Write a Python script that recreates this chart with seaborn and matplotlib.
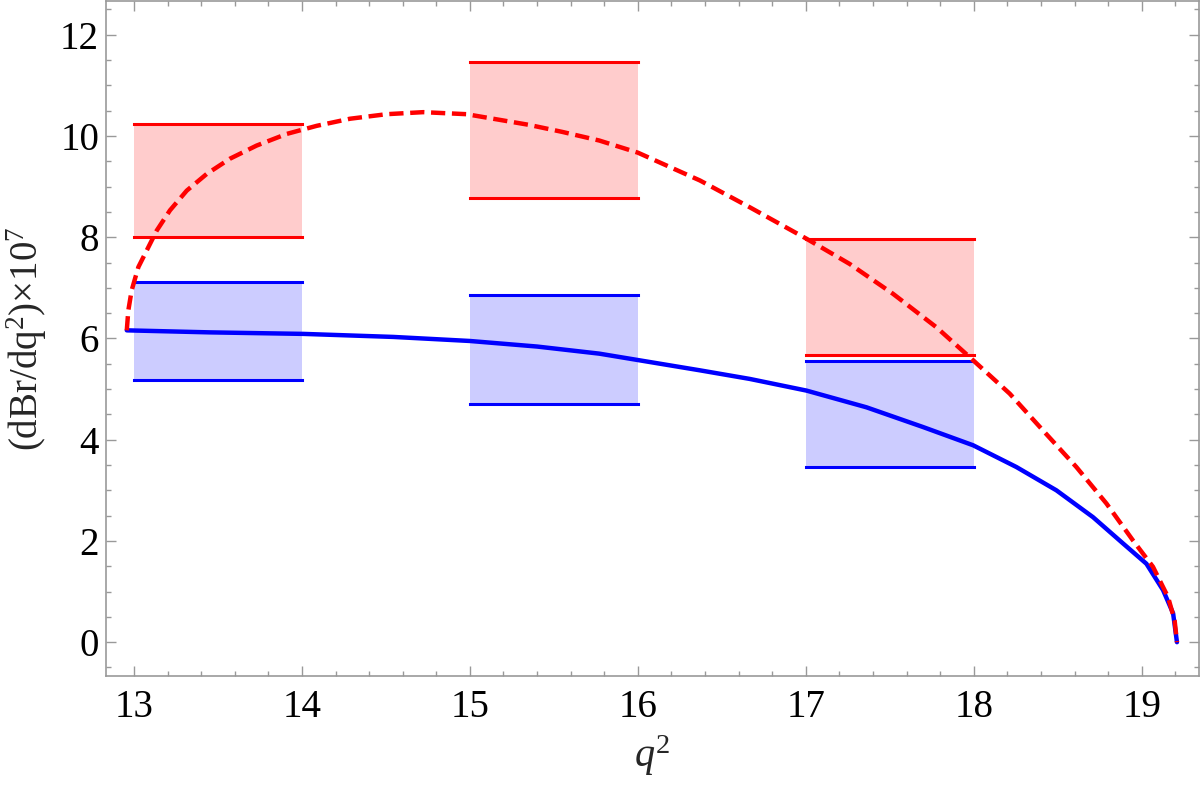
import numpy as np
import pandas as pd
import matplotlib
matplotlib.use('Agg')
import matplotlib.pyplot as plt
import seaborn as sns
from matplotlib.ticker import MultipleLocator

# q^2 bins with the two prediction bands (lower / upper edge)
bin_lo = [13, 15, 17]
bin_hi = [14, 16, 18]
red_lo = [8.01, 8.78, 5.68]
red_hi = [10.24, 11.47, 7.97]
blue_lo = [5.17, 4.71, 3.47]
blue_hi = [7.12, 6.85, 5.55]

# dashed red curve
red_q2 = [12.957, 12.966, 12.986, 13.026, 13.076, 13.135, 13.214, 13.314, 13.433,
          13.571, 13.730, 13.909, 14.088, 14.286, 14.504, 14.722, 14.98, 15.35,
          15.55, 15.77, 16.0, 16.37, 16.667, 17.004, 17.262, 17.520, 17.778,
          17.976, 18.214, 18.413, 18.611, 18.790, 18.948, 19.067, 19.157, 19.196,
          19.21]
red_br = [6.16, 6.55, 6.95, 7.41, 7.74, 8.13, 8.53, 8.92, 9.25,
          9.55, 9.81, 10.04, 10.20, 10.34, 10.43, 10.47, 10.43, 10.22,
          10.08, 9.91, 9.67, 9.12, 8.59, 7.97, 7.47, 6.88, 6.22,
          5.63, 4.91, 4.18, 3.46, 2.74, 2.01, 1.49, 0.89, 0.43,
          0.0]

# solid blue curve
blue_q2 = [12.957, 13.452, 14.008, 14.544, 15.0, 15.4, 15.77, 16.37, 16.667,
           17.004, 17.361, 17.698, 17.996, 18.254, 18.492, 18.710, 18.889, 19.028,
           19.127, 19.187, 19.21]
blue_br = [6.16, 6.12, 6.09, 6.03, 5.95, 5.84, 5.70, 5.37, 5.20,
           4.97, 4.64, 4.25, 3.89, 3.46, 3.00, 2.47, 1.95, 1.55,
           1.03, 0.57, 0.0]

sns.set_style('ticks')
plt.rcParams['font.family'] = ['Liberation Serif', 'DejaVu Serif']
plt.rcParams['mathtext.fontset'] = 'custom'
plt.rcParams['mathtext.rm'] = 'Liberation Serif'
plt.rcParams['mathtext.it'] = 'Liberation Serif:italic'

fig, ax = plt.subplots(figsize=(12, 7.88), dpi=100)
fig.subplots_adjust(left=0.0883, right=0.999, bottom=0.142, top=0.999)

for lo, hi, rb, rt, bb, bt in zip(bin_lo, bin_hi, red_lo, red_hi, blue_lo, blue_hi):
    ax.fill_between([lo, hi], [rb, rb], [rt, rt], color='#ffcccc', lw=0, zorder=1)
    ax.fill_between([lo, hi], [bb, bb], [bt, bt], color='#ccccff', lw=0, zorder=1)
    for y in (rb, rt):
        ax.plot([lo, hi], [y, y], color='red', lw=2.2, solid_capstyle='projecting', zorder=2)
    for y in (bb, bt):
        ax.plot([lo, hi], [y, y], color='blue', lw=2.2, solid_capstyle='projecting', zorder=2)

sns.lineplot(x=blue_q2, y=blue_br, sort=False, estimator=None, color='blue',
             lw=3.2, ax=ax, zorder=3)
sns.lineplot(x=red_q2, y=red_br, sort=False, estimator=None, color='red',
             lw=3.2, ax=ax, zorder=4)
ax.lines[-1].set_dashes((3.2, 1.5))

ax.set_xlim(12.833, 19.34)
ax.set_ylim(-0.67, 12.67)
ax.xaxis.set_major_locator(MultipleLocator(1))
ax.xaxis.set_minor_locator(MultipleLocator(0.2))
ax.yaxis.set_major_locator(MultipleLocator(2))
ax.yaxis.set_minor_locator(MultipleLocator(0.5))

ax.tick_params(which='both', direction='in', top=True, right=True, color='#999999',
               width=1.0, labelsize=28, labelcolor='black')
ax.tick_params(which='major', length=7)
ax.tick_params(which='minor', length=3.5)
ax.tick_params(axis='x', which='major', pad=9)
ax.tick_params(axis='y', which='major', pad=5)
for sp in ax.spines.values():
    sp.set_color('#999999')
    sp.set_linewidth(1.2)

ax.set_xlabel('$q^2$', fontsize=29, labelpad=6)
ax.set_ylabel('(dBr/dq$^2$)×10$^7$', fontsize=28, labelpad=8)

fig.savefig('out.png', dpi=100)
